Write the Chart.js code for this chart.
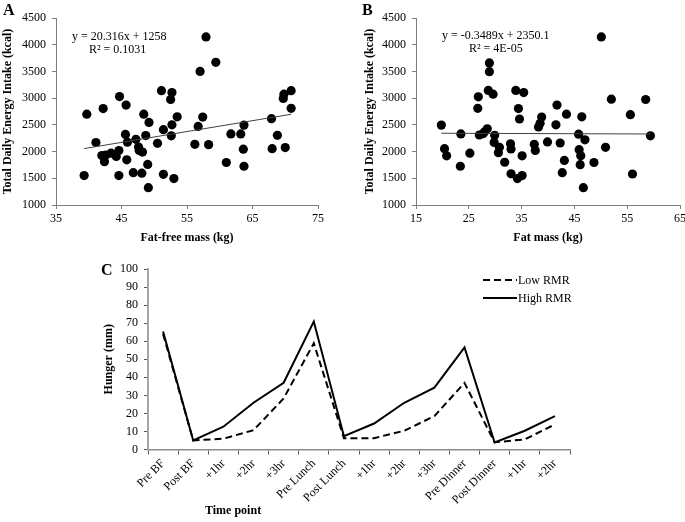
<!DOCTYPE html>
<html><head><meta charset="utf-8">
<script src="https://cdn.jsdelivr.net/npm/chart.js@4.4.1/dist/chart.umd.min.js"></script>
<style>
html,body{margin:0;padding:0;background:#fff;}
body{width:685px;height:522px;overflow:hidden;position:relative;font-family:"Liberation Serif","Times New Roman",serif;}
canvas{position:absolute;}
.t{position:absolute;font-family:"Liberation Serif","Times New Roman",serif;color:#000;white-space:nowrap;line-height:12px;font-size:12px;}
.lt{position:absolute;font-size:16px;font-weight:bold;line-height:16px;font-family:"Liberation Serif",serif;}
</style></head>
<body>
<canvas id="ca" width="340" height="250" style="left:0;top:0"></canvas>
<canvas id="cb" width="360" height="250" style="left:340px;top:0"></canvas>
<canvas id="cc" width="685" height="267" style="left:0;top:255px"></canvas>

<div class="lt" style="left:3px;top:2px">A</div>
<div class="lt" style="left:362px;top:2px">B</div>
<div class="lt" style="left:101px;top:262px">C</div>

<div class="t" style="left:72px;top:30px">y = 20.316x + 1258</div>
<div class="t" style="left:89px;top:43px">R² = 0.1031</div>
<div class="t" style="left:442px;top:28.5px">y = -0.3489x + 2350.1</div>
<div class="t" style="left:469px;top:41.5px">R² = 4E-05</div>

<svg style="position:absolute;left:483px;top:274px" width="36" height="30">
  <line x1="0" y1="6" x2="34" y2="6" stroke="#000" stroke-width="2" stroke-dasharray="7,4"/>
  <line x1="0" y1="24" x2="34" y2="24" stroke="#000" stroke-width="2"/>
</svg>
<div class="t" style="left:518px;top:274px">Low RMR</div>
<div class="t" style="left:518px;top:292px">High RMR</div>
<div class="t" style="left:205px;top:504px;font-weight:bold">Time point</div>

<script>
// Panel A: fat-free mass (kg) vs total daily energy intake (kcal)
const ffmKg = [39.3,39.7,41.1,42.2,42.0,42.4,42.6,43.4,44.2,44.6,44.7,44.6,45.6,45.7,45.9,45.8,46.8,47.2,47.6,47.7,48.2,48.1,48.4,48.7,49.0,49.2,49.1,50.5,51.1,51.4,51.4,52.5,52.7,52.7,52.6,53.0,53.5,56.2,56.7,57.0,57.4,57.9,58.3,59.4,61.0,61.7,63.2,63.6,63.7,63.7,67.9,68.0,68.8,69.7,69.8,70.0,70.9,70.9];
const ffmKcal = [1550,2700,2170,2805,1925,1810,1935,1970,1910,2020,3030,1550,2320,2870,2175,1845,1605,2230,2085,2020,1990,1595,2700,2300,1760,2545,1325,2155,3140,2410,1575,2975,3105,2500,2295,1495,2650,2135,2470,3500,2645,4145,2130,3670,1795,2330,2330,2045,2495,1725,2615,2055,2305,2995,3075,2075,3140,2810];
const trendAx = [39.3,70.9];
const trendAy = [2056,2698];

// Panel B: fat mass (kg) vs total daily energy intake (kcal)
const fatKg = [19.8,20.4,20.8,23.5,23.4,25.2,26.7,26.8,27.0,27.7,28.0,28.5,28.7,28.9,28.9,29.6,29.9,29.8,30.8,30.6,31.8,32.9,33.0,33.0,33.9,34.2,34.4,34.6,35.1,35.1,35.4,37.4,37.6,38.2,38.5,38.8,39.9,41.5,41.7,42.3,42.7,43.1,43.5,45.8,45.9,46.1,46.2,46.4,46.7,47.0,48.7,50.1,50.9,52.0,55.6,56.0,58.5,59.4];
const fatKcal = [2495,2055,1920,2330,1725,1970,2810,3025,2310,2335,2370,2425,3145,3660,3495,3075,2305,2170,2080,1980,1800,2145,2050,1585,3145,1495,2805,2610,1550,1920,3105,2135,2020,2460,2530,2645,2180,2500,2870,2160,1605,1835,2700,2325,2035,1755,1920,2650,1325,2220,1795,4145,2080,2980,2690,1580,2975,2295];
const trendBx = [19.8,59.4];
const trendBy = [2343,2329];

// Axis tick ranges [min, max, step]
const energyTicks = [1000,4500,500];
const ffmTicks = [35,75,10];
const fatTicks = [15,65,10];
const hungerTicks = [0,100,10];

// Panel C: hunger over the day
const timeLabels = ['Pre BF','Post BF','+1hr','+2hr','+3hr','Pre Lunch','Post Lunch','+1hr','+2hr','+3hr','Pre Dinner','Post Dinner','+1hr','+2hr'];
const lowRMR  = [64,5,6,10.7,28.3,58.9,6.3,6.3,10.4,18.5,36.9,4,5.6,13.9];
const highRMR = [65.4,5,12.6,25.9,37,70.9,7.4,14.4,25.9,34.3,56.5,3.9,10.4,18.5];

const SERIF = '"Liberation Serif", "Times New Roman", serif';
const tickFont = {family: SERIF, size: 12};
const titleFont = {family: SERIF, size: 12, weight: 'bold'};
const plain = v => String(v);
const common = {responsive:false, animation:false, events:[], devicePixelRatio:1,
  plugins:{legend:{display:false}, tooltip:{enabled:false}}};

function scatterPanel(id, xs, ys, tx, ty, xt, xTitle, yW, yTitlePad, padRight){
  new Chart(document.getElementById(id), {
    type:'scatter',
    data:{datasets:[
      {data: tx.map((x,i)=>({x:x, y:ty[i]})), showLine:true, borderColor:'#404040', borderWidth:1, pointRadius:0, order:0},
      {data: xs.map((x,i)=>({x:x, y:ys[i]})), backgroundColor:'#000', borderColor:'#000', borderWidth:0, pointRadius:4.6, order:1}
    ]},
    options:Object.assign({}, common, {
      layout:{padding:{left:0, top:18, right:padRight, bottom:0}},
      scales:{
        x:{type:'linear', min:xt[0], max:xt[1],
           ticks:{stepSize:xt[2], color:'#000', font:tickFont, padding:3, maxRotation:0, callback:plain},
           grid:{display:true, drawOnChartArea:false, drawTicks:true, tickLength:4, color:'#7f7f7f'},
           border:{display:true, color:'#7f7f7f', width:1},
           title:{display:true, text:xTitle, color:'#000', font:titleFont, padding:{top:0, bottom:4.5}},
           afterFit(s){ s.height = 45; }},
        y:{type:'linear', min:energyTicks[0], max:energyTicks[1],
           ticks:{stepSize:energyTicks[2], color:'#000', font:tickFont, padding:6, callback:plain},
           grid:{display:true, drawOnChartArea:false, drawTicks:true, tickLength:4, color:'#7f7f7f'},
           border:{display:true, color:'#7f7f7f', width:1},
           title:{display:true, text:'Total Daily Energy Intake (kcal)', color:'#000', font:titleFont, padding:{top:yTitlePad, bottom:0}},
           afterFit(s){ s.width = yW; }}
      }
    })
  });
}

scatterPanel('ca', ffmKg, ffmKcal, trendAx, trendAy, ffmTicks, 'Fat-free mass (kg)', 56, 1, 22);
scatterPanel('cb', fatKg, fatKcal, trendBx, trendBy, fatTicks, 'Fat mass (kg)', 76, 22.5, 20);

new Chart(document.getElementById('cc'), {
  type:'line',
  data:{labels: timeLabels, datasets:[
    {label:'Low RMR', data: lowRMR, borderColor:'#000', borderWidth:2, borderDash:[7,4], pointRadius:0, tension:0, fill:false},
    {label:'High RMR', data: highRMR, borderColor:'#000', borderWidth:2, pointRadius:0, tension:0, fill:false}
  ]},
  options:Object.assign({}, common, {
    layout:{padding:{left:0, top:14, right:115, bottom:0}},
    scales:{
      x:{type:'category', offset:true,
         ticks:{color:'#000', font:tickFont, minRotation:45, maxRotation:45, autoSkip:false, padding:2},
         grid:{display:true, offset:true, drawOnChartArea:false, drawTicks:true, tickLength:5, color:'#595959'},
         border:{display:true, color:'#8c8c8c', width:1.5},
         afterFit(s){ s.height = 72.5; }},
      y:{type:'linear', min:hungerTicks[0], max:hungerTicks[1],
         ticks:{stepSize:hungerTicks[2], color:'#000', font:tickFont, padding:6, callback:plain},
         grid:{display:true, drawOnChartArea:false, drawTicks:true, tickLength:4, color:'#595959'},
         border:{display:true, color:'#a6a6a6', width:2},
         title:{display:true, text:'Hunger (mm)', color:'#000', font:titleFont, padding:{top:102, bottom:0}},
         afterFit(s){ s.width = 148; }}
    }
  })
});
</script>
</body></html>
